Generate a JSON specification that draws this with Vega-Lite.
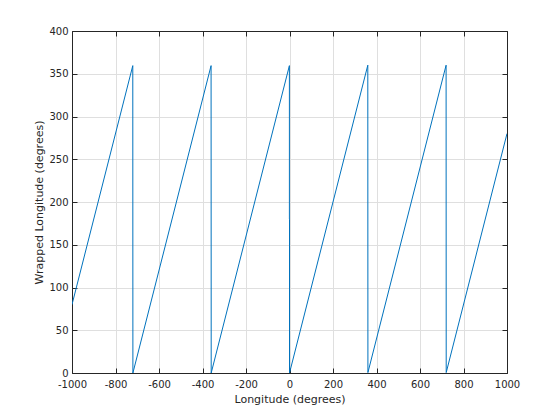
{
  "$schema": "https://vega.github.io/schema/vega-lite/v6.json",
  "autosize": {"type": "none"},
  "padding": {"left": 72, "top": 31, "right": 53, "bottom": 47},
  "width": 435,
  "height": 342,
  "background": "white",
  "config": {
    "view": {"stroke": null},
    "font": "DejaVu Sans",
    "axis": {
      "labelFont": "DejaVu Sans",
      "titleFont": "DejaVu Sans",
      "labelFontSize": 10,
      "titleFontSize": 11,
      "titleFontWeight": "normal",
      "labelColor": "#262626",
      "titleColor": "#262626",
      "domainColor": "#262626",
      "tickColor": "#262626",
      "gridColor": "#dfdfdf",
      "gridOpacity": 1,
      "domainWidth": 1,
      "tickWidth": 1
    }
  },
  "data": {
    "values": [
      {"i": 0, "lon": -1000, "wrapped": 80},
      {"i": 1, "lon": -720.5, "wrapped": 359.5},
      {"i": 2, "lon": -720, "wrapped": 0},
      {"i": 3, "lon": -360.5, "wrapped": 359.5},
      {"i": 4, "lon": -360, "wrapped": 0},
      {"i": 5, "lon": -0.5, "wrapped": 359.5},
      {"i": 6, "lon": -0.5, "wrapped": 180},
      {"i": 7, "lon": 0, "wrapped": 180},
      {"i": 8, "lon": 0, "wrapped": 0},
      {"i": 9, "lon": 360, "wrapped": 360},
      {"i": 10, "lon": 360.5, "wrapped": 0.5},
      {"i": 11, "lon": 720, "wrapped": 360},
      {"i": 12, "lon": 720.5, "wrapped": 0.5},
      {"i": 13, "lon": 1000, "wrapped": 280}
    ]
  },
  "resolve": {"axis": {"x": "independent", "y": "independent"}},
  "layer": [
    {
      "mark": {"type": "line", "color": "#0072BD", "strokeWidth": 1, "clip": true},
      "encoding": {
        "x": {
          "field": "lon", "type": "quantitative",
          "scale": {"domain": [-1000, 1000], "nice": false, "zero": false},
          "axis": {
            "orient": "bottom", "title": "Longitude (degrees)",
            "values": [-1000, -800, -600, -400, -200, 0, 200, 400, 600, 800, 1000],
            "labelExpr": "'' + datum.value",
            "tickSize": -5, "labelPadding": 11, "titlePadding": 4,
            "grid": true, "labelFlush": false
          }
        },
        "y": {
          "field": "wrapped", "type": "quantitative",
          "scale": {"domain": [0, 400], "nice": false},
          "axis": {
            "orient": "left", "title": "Wrapped Longitude (degrees)",
            "values": [0, 50, 100, 150, 200, 250, 300, 350, 400],
            "labelExpr": "'' + datum.value",
            "tickSize": -5, "labelPadding": 9, "titlePadding": 4,
            "grid": true, "labelFlush": false
          }
        },
        "order": {"field": "i", "type": "quantitative"}
      }
    },
    {
      "mark": {"type": "point", "opacity": 0},
      "encoding": {
        "x": {
          "field": "lon", "type": "quantitative",
          "axis": {
            "orient": "top", "title": null, "labels": false, "grid": false,
            "values": [-1000, -800, -600, -400, -200, 0, 200, 400, 600, 800, 1000],
            "tickSize": -5
          }
        },
        "y": {
          "field": "wrapped", "type": "quantitative",
          "axis": {
            "orient": "right", "title": null, "labels": false, "grid": false,
            "values": [0, 50, 100, 150, 200, 250, 300, 350, 400],
            "tickSize": -5
          }
        }
      }
    }
  ]
}
